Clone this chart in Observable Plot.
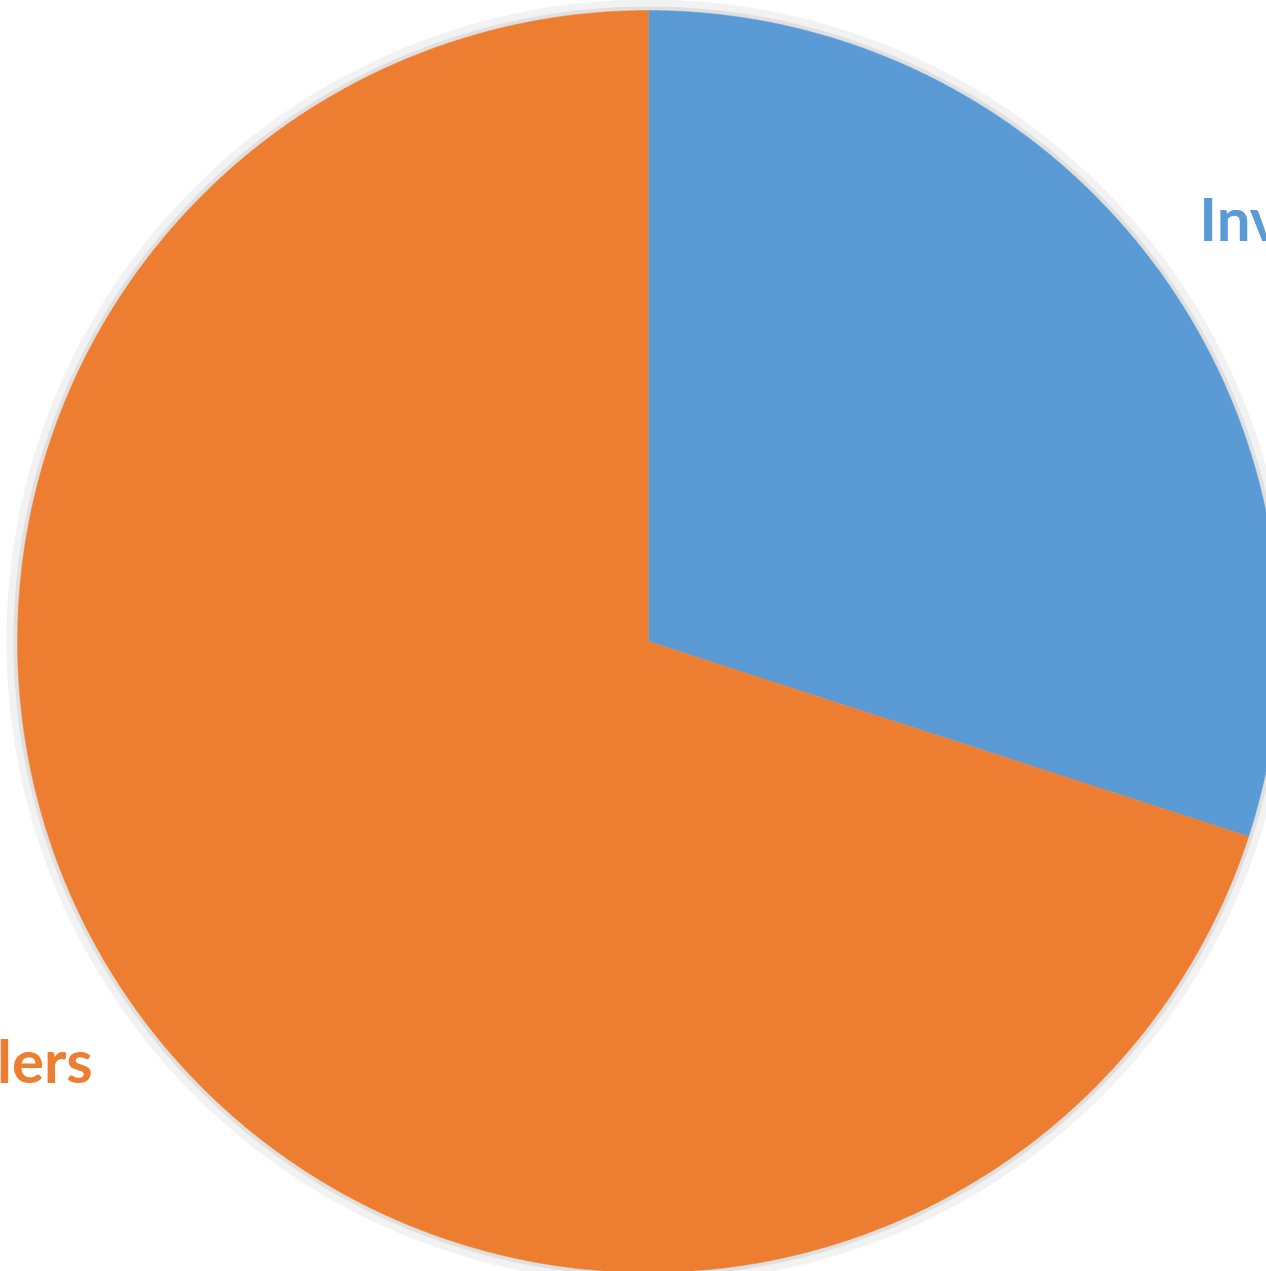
<!DOCTYPE html>
<html><head><meta charset="utf-8">
<script src="https://cdn.jsdelivr.net/npm/d3@7"></script>
<script src="https://cdn.jsdelivr.net/npm/@observablehq/plot@0.6"></script>
<style>html,body{margin:0;padding:0;background:#fff;overflow:hidden}</style>
</head><body><div id="chart"></div>
<script>
const categories = ["Investors", "Sellers"];
const values = [30, 70];
const colors = ["#5B9BD5", "#ED7D31"];

const W = 1266, H = 1271;
const cx = 648, cy = 641, R = 631, labelR = 692;

const total = d3.sum(values);
let acc = 0;
const slices = categories.map((c, i) => {
  const a0 = acc / total * 2 * Math.PI;
  acc += values[i];
  const a1 = acc / total * 2 * Math.PI;
  return {category: c, a0, a1, mid: (a0 + a1) / 2};
});

const pt = (a, r) => [cx + r * Math.sin(a), cy - r * Math.cos(a)];
const poly = [];
for (const s of slices) {
  poly.push({category: s.category, x: cx, y: cy});
  const n = Math.max(2, Math.ceil((s.a1 - s.a0) / (Math.PI / 720)));
  for (let k = 0; k <= n; k++) {
    const a = s.a0 + (s.a1 - s.a0) * k / n;
    const [x, y] = pt(a, R);
    poly.push({category: s.category, x, y});
  }
  poly.push({category: s.category, x: cx, y: cy});
}
const ringAt = r => d3.range(0, 721).map(k => {
  const [x, y] = pt(k / 720 * 2 * Math.PI, r);
  return {x, y};
});
const labels = slices.map(s => {
  const [x, y] = pt(s.mid, labelR);
  return {category: s.category, x, y, anchor: Math.sin(s.mid) >= 0 ? "start" : "end"};
});

const chart = Plot.plot({
  width: W, height: H,
  margin: 0,
  x: {domain: [0, W], range: [0, W], axis: null},
  y: {domain: [0, H], range: [0, H], axis: null},
  color: {domain: categories, range: colors},
  style: {background: "#fff"},
  marks: [
    Plot.line(ringAt(R + 5), {x: "x", y: "y", stroke: "#e6e6e6", strokeWidth: 12, strokeOpacity: 0.5, curve: "linear"}),
    Plot.line(ringAt(R + 2), {x: "x", y: "y", stroke: "#d4d4d4", strokeWidth: 4, strokeOpacity: 0.6, curve: "linear"}),
    Plot.line(poly, {x: "x", y: "y", z: "category", fill: "category", stroke: "category", strokeWidth: 0.5, curve: "linear"}),
    Plot.text(labels.filter(d => d.anchor === "start"), {x: "x", y: "y", dx: -9, dy: -13, text: "category", fill: "category", textAnchor: "start", fontSize: 60, fontWeight: "bold", fontFamily: "Lato"}),
    Plot.text(labels.filter(d => d.anchor === "end"), {x: "x", y: "y", dx: 4, dy: 16, text: "category", fill: "category", textAnchor: "end", fontSize: 60, fontWeight: "bold", fontFamily: "Lato"})
  ]
});
document.getElementById("chart").append(chart);
</script>
</body></html>
